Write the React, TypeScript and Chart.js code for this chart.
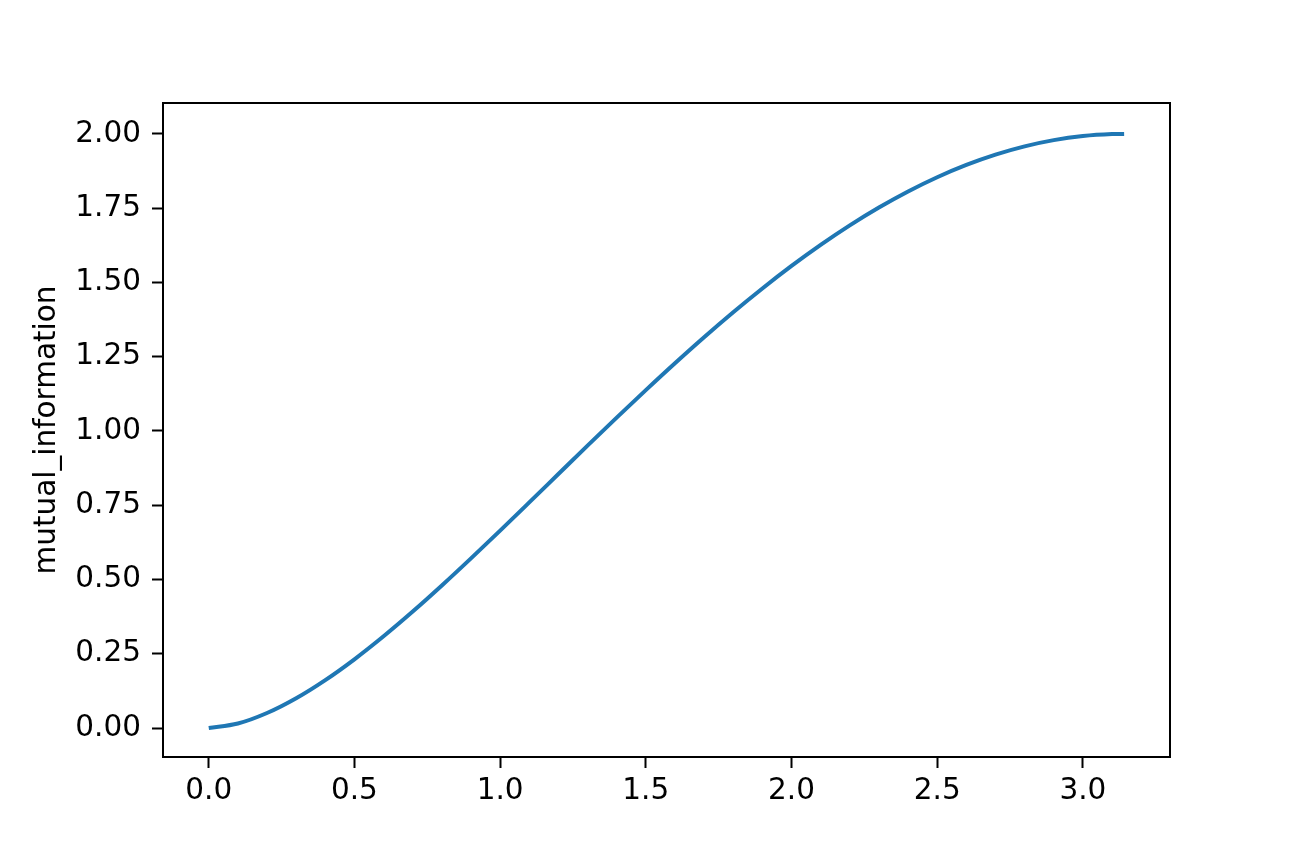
import React, { useEffect, useRef } from "react";
import { Chart, registerables } from "chart.js";

Chart.register(...registerables);

const xValues = [0, 0.1, 0.2, 0.3, 0.4, 0.5, 0.6, 0.7, 0.8, 0.9, 1.0, 1.1, 1.2, 1.3, 1.4, 1.5, 1.6, 1.7, 1.8, 1.9, 2.0, 2.1, 2.2, 2.3, 2.4, 2.5, 2.6, 2.7, 2.8, 2.9, 3.0, 3.1, 3.1416];
const mutualInformation = [0, 0.0151, 0.0504, 0.1001, 0.1612, 0.2313, 0.3087, 0.3919, 0.4797, 0.5709, 0.6645, 0.7595, 0.855, 0.9504, 1.0447, 1.1374, 1.2279, 1.3155, 1.3996, 1.4797, 1.5555, 1.6264, 1.6921, 1.7521, 1.8062, 1.8541, 1.8955, 1.9302, 1.9581, 1.979, 1.9927, 1.9994, 2.0];
const xTicks = [0, 0.5, 1.0, 1.5, 2.0, 2.5, 3.0];
const yTicks = [0, 0.25, 0.5, 0.75, 1.0, 1.25, 1.5, 1.75, 2.0];
const yLabel = "mutual_information";

const FONT = { family: "'DejaVu Sans', sans-serif", size: 29.5 };

const frame = {
  id: "frame",
  afterDraw(chart: any) {
    const { ctx, chartArea } = chart;
    ctx.save();
    ctx.strokeStyle = "#000";
    ctx.lineWidth = 2;
    ctx.strokeRect(chartArea.left, chartArea.top, chartArea.right - chartArea.left, chartArea.bottom - chartArea.top);
    ctx.restore();
  },
};

const whiteBg = {
  id: "whiteBg",
  beforeDraw(chart: any) {
    const { ctx, width, height } = chart;
    ctx.save();
    ctx.fillStyle = "#fff";
    ctx.fillRect(0, 0, width, height);
    ctx.restore();
  },
};

export default function App() {
  const ref = useRef<HTMLCanvasElement | null>(null);
  useEffect(() => {
    if (!ref.current) return;
    const chart = new Chart(ref.current, {
      type: "line",
      data: {
        datasets: [
          {
            data: xValues.map((x, i) => ({ x, y: mutualInformation[i] })),
            borderColor: "#1f77b4",
            borderWidth: 4,
            pointRadius: 0,
            cubicInterpolationMode: "monotone",
            fill: false,
          },
        ],
      },
      options: {
        responsive: false,
        animation: false,
        layout: { padding: { top: 103, right: 130, left: 0, bottom: 0 } },
        plugins: { legend: { display: false }, tooltip: { enabled: false } },
        scales: {
          x: {
            type: "linear",
            min: -0.157,
            max: 3.299,
            afterBuildTicks: (s: any) => {
              s.ticks = xTicks.map((v) => ({ value: v }));
            },
            afterFit: (s: any) => {
              s.height = 109;
            },
            grid: { drawOnChartArea: false, drawTicks: true, tickLength: 11, tickColor: "#000", tickWidth: 2 },
            border: { display: true, color: "#000", width: 2 },
            ticks: {
              color: "#000",
              font: FONT,
              padding: 6,
              maxRotation: 0,
              autoSkip: false,
              callback: (v: any) => Number(v).toFixed(1),
            },
          },
          y: {
            type: "linear",
            min: -0.0976,
            max: 2.104,
            afterBuildTicks: (s: any) => {
              s.ticks = yTicks.map((v) => ({ value: v }));
            },
            afterFit: (s: any) => {
              s.width = 163;
            },
            grid: { drawOnChartArea: false, drawTicks: true, tickLength: 11, tickColor: "#000", tickWidth: 2 },
            border: { display: true, color: "#000", width: 2 },
            ticks: {
              color: "#000",
              font: FONT,
              padding: 11,
              autoSkip: false,
              callback: (v: any) => Number(v).toFixed(2),
            },
            title: {
              display: true,
              text: yLabel,
              color: "#000",
              font: FONT,
              padding: { top: 30, bottom: 0 },
            },
          },
        },
      },
      plugins: [whiteBg, frame],
    });
    return () => chart.destroy();
  }, []);
  return (
    <div style={{ position: "fixed", left: 0, top: 0, width: 1300, height: 866, background: "#fff" }}>
      <canvas ref={ref} width={1300} height={866} style={{ width: 1300, height: 866 }} />
    </div>
  );
}
